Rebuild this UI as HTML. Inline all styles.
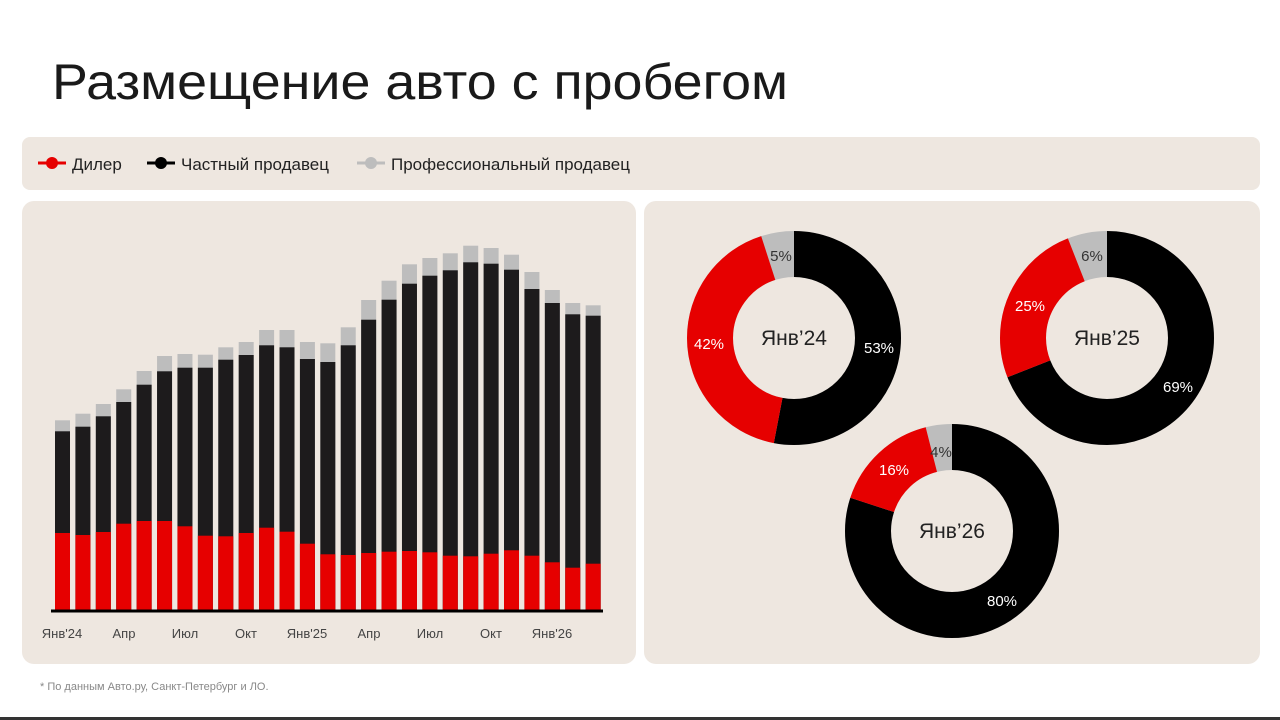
<!DOCTYPE html>
<html><head><meta charset="utf-8"><style>
html,body{margin:0;padding:0;background:#fff;}
svg{display:block;font-family:"Liberation Sans",sans-serif;}
</style></head><body>
<svg width="1280" height="720" viewBox="0 0 1280 720" xmlns="http://www.w3.org/2000/svg">
<rect width="1280" height="720" fill="#fff"/>
<text x="52" y="99" font-size="50" fill="#1a1a1a" textLength="736" lengthAdjust="spacingAndGlyphs">Размещение авто с пробегом</text>
<rect x="22" y="137" width="1238" height="53" rx="8" fill="#eee7e0"/>
<g font-size="17" fill="#222">
<line x1="38" y1="163" x2="66" y2="163" stroke="#e60000" stroke-width="3"/><circle cx="52" cy="163" r="6" fill="#e60000"/>
<text x="72" y="170">Дилер</text>
<line x1="147" y1="163" x2="175" y2="163" stroke="#000" stroke-width="3"/><circle cx="161" cy="163" r="6" fill="#000"/>
<text x="181" y="170" textLength="148" lengthAdjust="spacingAndGlyphs">Частный продавец</text>
<line x1="357" y1="163" x2="385" y2="163" stroke="#bdbdbd" stroke-width="3"/><circle cx="371" cy="163" r="6" fill="#bdbdbd"/>
<text x="391" y="170" textLength="239" lengthAdjust="spacingAndGlyphs">Профессиональный продавец</text>
</g>
<rect x="22" y="201" width="614" height="463" rx="12" fill="#eee7e0"/>
<rect x="644" y="201" width="616" height="463" rx="12" fill="#eee7e0"/>
<g fill="#bdbdbd">
<rect x="55" y="420.3" width="15" height="190.7"/><rect x="75.41" y="413.7" width="15" height="197.3"/><rect x="95.82" y="404" width="15" height="207"/><rect x="116.23" y="389.3" width="15" height="221.7"/><rect x="136.64" y="371" width="15" height="240"/><rect x="157.05" y="356" width="15" height="255"/><rect x="177.46" y="354" width="15" height="257"/><rect x="197.87" y="354.7" width="15" height="256.3"/><rect x="218.28" y="347.3" width="15" height="263.7"/><rect x="238.69" y="342" width="15" height="269"/><rect x="259.1" y="330" width="15" height="281"/><rect x="279.51" y="330" width="15" height="281"/><rect x="299.92" y="342" width="15" height="269"/><rect x="320.33" y="343.3" width="15" height="267.7"/><rect x="340.74" y="327.3" width="15" height="283.7"/><rect x="361.15" y="300" width="15" height="311"/><rect x="381.56" y="280.7" width="15" height="330.3"/><rect x="401.97" y="264.3" width="15" height="346.7"/><rect x="422.38" y="258" width="15" height="353"/><rect x="442.79" y="253.3" width="15" height="357.7"/><rect x="463.2" y="245.7" width="15" height="365.3"/><rect x="483.61" y="248" width="15" height="363"/><rect x="504.02" y="254.7" width="15" height="356.3"/><rect x="524.43" y="272" width="15" height="339"/><rect x="544.84" y="290" width="15" height="321"/><rect x="565.25" y="303" width="15" height="308"/><rect x="585.66" y="305.3" width="15" height="305.7"/>
</g>
<g fill="#1d1b1c">
<rect x="55" y="431.3" width="15" height="179.7"/><rect x="75.41" y="426.7" width="15" height="184.3"/><rect x="95.82" y="416.3" width="15" height="194.7"/><rect x="116.23" y="402" width="15" height="209"/><rect x="136.64" y="384.7" width="15" height="226.3"/><rect x="157.05" y="371.3" width="15" height="239.7"/><rect x="177.46" y="367.7" width="15" height="243.3"/><rect x="197.87" y="367.7" width="15" height="243.3"/><rect x="218.28" y="359.7" width="15" height="251.3"/><rect x="238.69" y="355" width="15" height="256"/><rect x="259.1" y="345.3" width="15" height="265.7"/><rect x="279.51" y="347.3" width="15" height="263.7"/><rect x="299.92" y="359" width="15" height="252"/><rect x="320.33" y="362" width="15" height="249"/><rect x="340.74" y="345.3" width="15" height="265.7"/><rect x="361.15" y="319.7" width="15" height="291.3"/><rect x="381.56" y="299.7" width="15" height="311.3"/><rect x="401.97" y="283.7" width="15" height="327.3"/><rect x="422.38" y="275.7" width="15" height="335.3"/><rect x="442.79" y="270.3" width="15" height="340.7"/><rect x="463.2" y="262.3" width="15" height="348.7"/><rect x="483.61" y="263.7" width="15" height="347.3"/><rect x="504.02" y="269.7" width="15" height="341.3"/><rect x="524.43" y="289" width="15" height="322"/><rect x="544.84" y="303" width="15" height="308"/><rect x="565.25" y="314.3" width="15" height="296.7"/><rect x="585.66" y="315.7" width="15" height="295.3"/>
</g>
<g fill="#e60000">
<rect x="55" y="533" width="15" height="78"/><rect x="75.41" y="535" width="15" height="76"/><rect x="95.82" y="532" width="15" height="79"/><rect x="116.23" y="523.7" width="15" height="87.3"/><rect x="136.64" y="521" width="15" height="90"/><rect x="157.05" y="521" width="15" height="90"/><rect x="177.46" y="526.3" width="15" height="84.7"/><rect x="197.87" y="535.7" width="15" height="75.3"/><rect x="218.28" y="536.3" width="15" height="74.7"/><rect x="238.69" y="533" width="15" height="78"/><rect x="259.1" y="527.7" width="15" height="83.3"/><rect x="279.51" y="531.7" width="15" height="79.3"/><rect x="299.92" y="543.7" width="15" height="67.3"/><rect x="320.33" y="554.3" width="15" height="56.7"/><rect x="340.74" y="555" width="15" height="56"/><rect x="361.15" y="553" width="15" height="58"/><rect x="381.56" y="551.7" width="15" height="59.3"/><rect x="401.97" y="551" width="15" height="60"/><rect x="422.38" y="552.3" width="15" height="58.7"/><rect x="442.79" y="555.7" width="15" height="55.3"/><rect x="463.2" y="556.3" width="15" height="54.7"/><rect x="483.61" y="553.7" width="15" height="57.3"/><rect x="504.02" y="550.3" width="15" height="60.7"/><rect x="524.43" y="555.7" width="15" height="55.3"/><rect x="544.84" y="562.3" width="15" height="48.7"/><rect x="565.25" y="567.7" width="15" height="43.3"/><rect x="585.66" y="563.7" width="15" height="47.3"/>
</g>
<line x1="51" y1="611" x2="603" y2="611" stroke="#000" stroke-width="3"/>
<g font-size="13" fill="#444" text-anchor="middle">
<text x="62" y="638">Янв'24</text><text x="124" y="638">Апр</text><text x="185" y="638">Июл</text><text x="246" y="638">Окт</text><text x="307" y="638">Янв'25</text><text x="369" y="638">Апр</text><text x="430" y="638">Июл</text><text x="491" y="638">Окт</text><text x="552" y="638">Янв'26</text>
</g>
<g fill="none" stroke-width="46">
<g transform="translate(794,338) rotate(-90)">
<circle r="84" stroke="#bdbdbd"/>
<circle r="84" stroke="#000" stroke-dasharray="279.73 600"/>
<circle r="84" stroke="#e60000" stroke-dasharray="221.67 600" stroke-dashoffset="-279.73"/>
</g>
<g transform="translate(1107,338) rotate(-90)">
<circle r="84" stroke="#bdbdbd"/>
<circle r="84" stroke="#000" stroke-dasharray="364.18 600"/>
<circle r="84" stroke="#e60000" stroke-dasharray="131.95 600" stroke-dashoffset="-364.18"/>
</g>
<g transform="translate(952,531) rotate(-90)">
<circle r="84" stroke="#bdbdbd"/>
<circle r="84" stroke="#000" stroke-dasharray="422.23 600"/>
<circle r="84" stroke="#e60000" stroke-dasharray="84.45 600" stroke-dashoffset="-422.23"/>
</g>
</g>
<g font-size="21" fill="#222" text-anchor="middle">
<text x="794" y="345">Янв’24</text><text x="1107" y="345">Янв’25</text><text x="952" y="538">Янв’26</text>
</g>
<g font-size="15" fill="#fff" text-anchor="middle">
<text x="879" y="353">53%</text><text x="709" y="349">42%</text>
<text x="1178" y="392">69%</text><text x="1030" y="311">25%</text>
<text x="1002" y="606">80%</text><text x="894" y="475">16%</text>
</g>
<g font-size="15" fill="#333" text-anchor="middle">
<text x="781" y="261">5%</text><text x="1092" y="261">6%</text><text x="941" y="457">4%</text>
</g>
<text x="40" y="690" font-size="11" fill="#888">* По данным Авто.ру, Санкт-Петербург и ЛО.</text>
<rect x="0" y="717" width="1280" height="3" fill="#333"/>
</svg>
</body></html>
